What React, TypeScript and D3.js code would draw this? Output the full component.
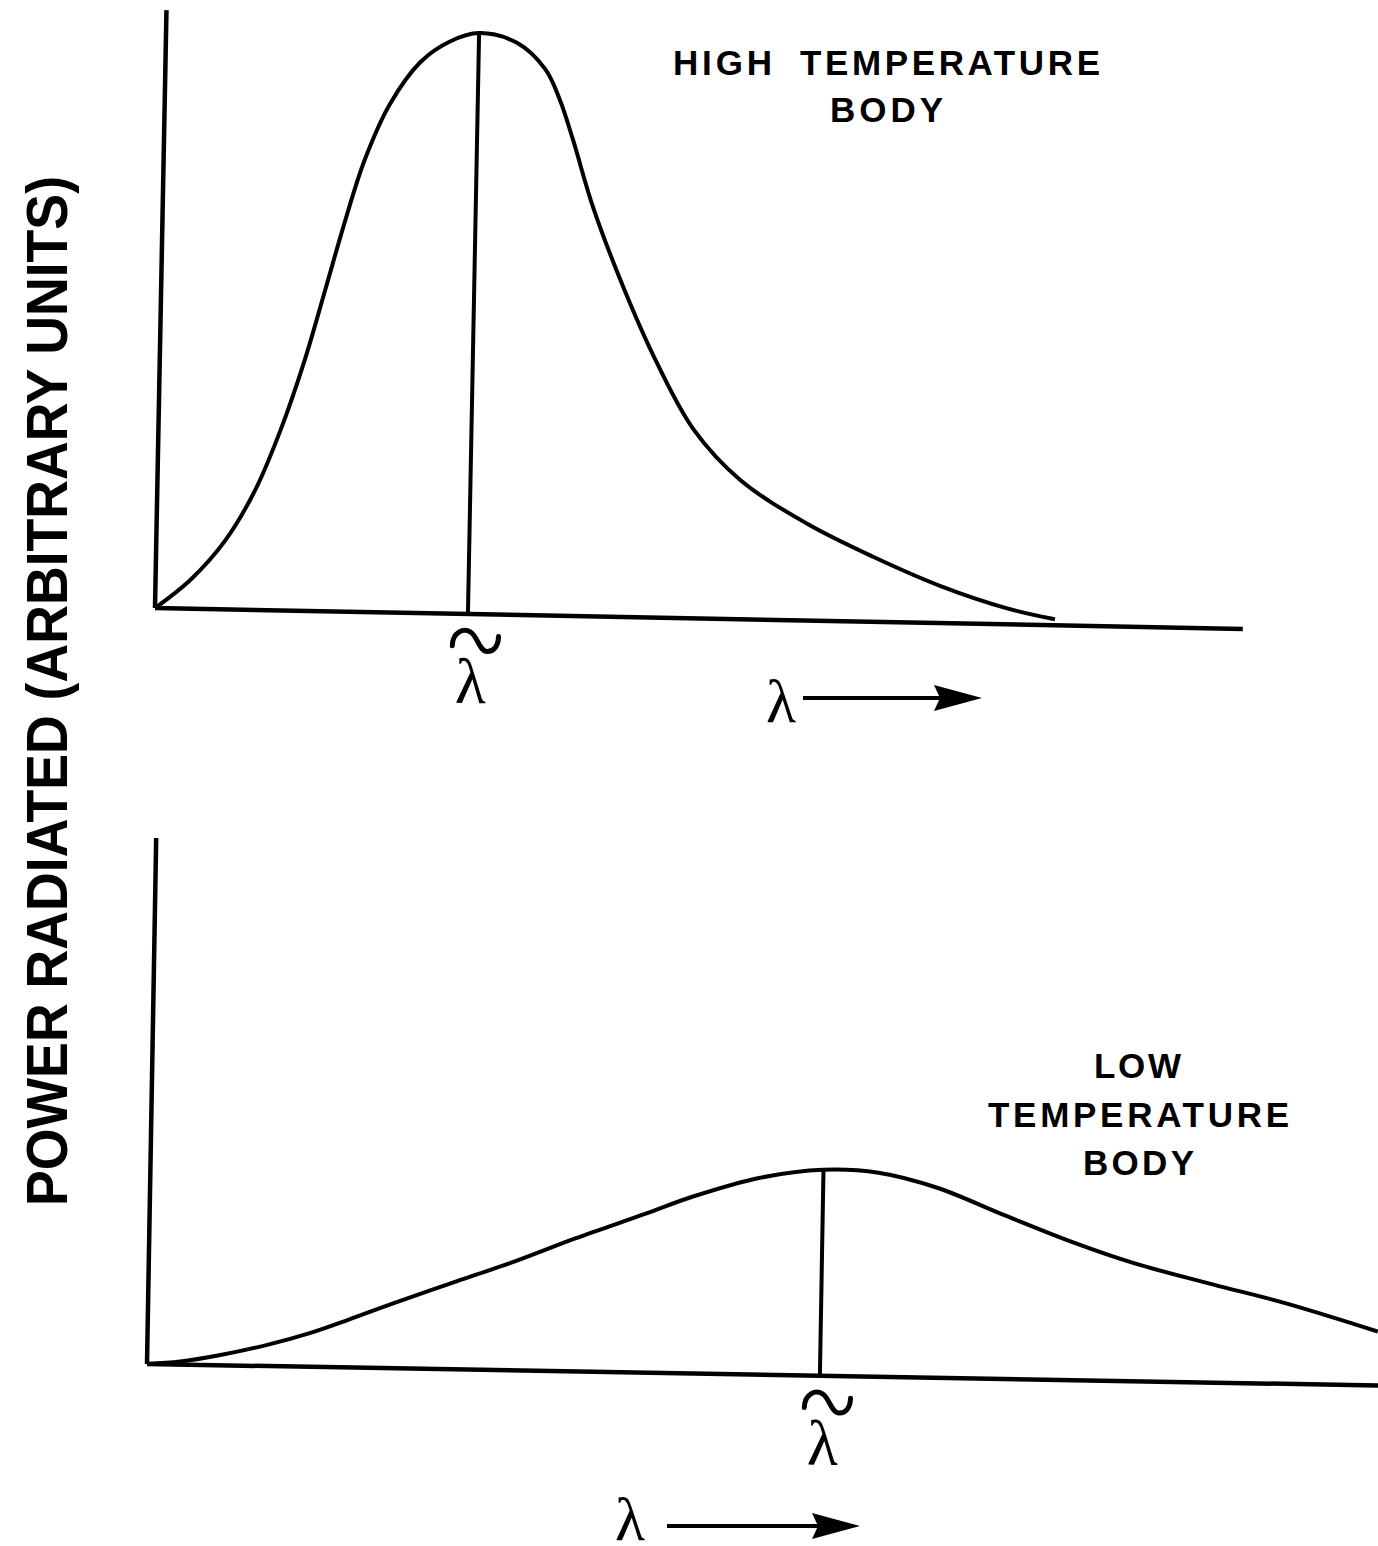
import * as d3 from "d3";

// wavelength and power in arbitrary units
const HIGH_WAVELENGTH = [0, 0.35, 0.69, 0.98, 1.22, 1.45, 1.64, 1.83, 2.01, 2.25, 2.55, 2.84, 3.13, 3.51, 3.8, 3.95, 4.09, 4.3, 4.62, 4.97, 5.35, 5.83, 6.5, 7.17, 7.85, 8.52, 9.0];
const HIGH_POWER = [0, 0.29, 0.69, 1.2, 1.8, 2.51, 3.21, 3.92, 4.52, 5.08, 5.51, 5.72, 5.81, 5.72, 5.46, 5.16, 4.76, 4.1, 3.3, 2.55, 1.89, 1.39, 0.97, 0.65, 0.37, 0.16, 0.06];

const LOW_WAVELENGTH = [0, 0.33, 0.72, 1.19, 1.63, 2.01, 2.45, 3.08, 3.66, 4.26, 4.96, 5.43, 6.1, 6.73, 7.28, 7.87, 8.54, 9.26, 9.85, 10.65, 11.36, 12.3];
const LOW_POWER = [0, 0.03, 0.1, 0.21, 0.34, 0.48, 0.65, 0.88, 1.09, 1.33, 1.59, 1.77, 1.97, 2.06, 2.04, 1.9, 1.64, 1.37, 1.18, 0.98, 0.81, 0.54];

// wavelength of maximum emission, per body
const HIGH_PEAK = 3.13;
const LOW_PEAK = 6.73;

const HIGH_LABEL = ["HIGH", "TEMPERATURE", "BODY"];
const LOW_LABEL = ["LOW", "TEMPERATURE", "BODY"];
const Y_LABEL = "POWER RADIATED (ARBITRARY UNITS)";

const W = 1378;
const H = 1546;
const UNIT = 100;

const x = d3.scaleLinear().domain([0, 1]).range([0, UNIT]);
const y = d3.scaleLinear().domain([0, 1]).range([0, -UNIT]);

const line = d3
  .line<[number, number]>()
  .x((d) => x(d[0]))
  .y((d) => y(d[1]))
  .curve(d3.curveCatmullRom.alpha(0.5));

type PanelProps = {
  ox: number;
  oy: number;
  tilt: number;
  xMax: number;
  yMax: number;
  wl: number[];
  pw: number[];
  peak: number;
  arrow: { lambdaAt: number; lambdaBase: number; from: number; to: number; y: number };
};

const peakPower = (wl: number[], pw: number[], peak: number) => {
  const i = wl.indexOf(peak);
  return i >= 0 ? pw[i] : d3.max(pw)!;
};

const Panel = ({ ox, oy, tilt, xMax, yMax, wl, pw, peak, arrow }: PanelProps) => {
  const pts = wl.map((w, i) => [w, pw[i]] as [number, number]);
  const top = peakPower(wl, pw, peak);
  const tip = x(arrow.to);
  return (
    <g>
      <g transform={`translate(${ox},${oy}) rotate(${tilt})`}>
        <line x1={x(0)} y1={y(0)} x2={x(0)} y2={y(yMax)} stroke="#000" strokeWidth={4.5} />
        <line x1={x(0)} y1={y(0)} x2={x(xMax)} y2={y(0)} stroke="#000" strokeWidth={4.5} />
        <path d={line(pts)!} fill="none" stroke="#000" strokeWidth={4} />
        <line x1={x(peak)} y1={y(0)} x2={x(peak)} y2={y(top)} stroke="#000" strokeWidth={4} />
        <path
          transform={`translate(${x(peak) + 8},${26})`}
          d="M -23 6 C -23 -8 -12 -12 -5 -8 C 2 -4 4 11 12 11 C 18 11 23 6 23 -4"
          fill="none"
          stroke="#000"
          strokeWidth={5}
          strokeLinecap="round"
        />
        <text x={x(peak) + 4} y={89} textAnchor="middle" fontFamily="Liberation Serif" fontSize={64}>
          λ
        </text>
      </g>
      <g transform={`translate(${ox},${oy})`}>
        <text x={x(arrow.lambdaAt)} y={arrow.lambdaBase} textAnchor="middle" fontFamily="Liberation Serif" fontSize={62}>
          λ
        </text>
        <line x1={x(arrow.from)} y1={arrow.y} x2={tip - 40} y2={arrow.y} stroke="#000" strokeWidth={4} />
        <path
          d={`M ${tip} ${arrow.y} L ${tip - 48} ${arrow.y - 13} L ${tip - 42} ${arrow.y} L ${tip - 48} ${arrow.y + 13} Z`}
          fill="#000"
        />
      </g>
    </g>
  );
};

const LABEL_FONT = "'Liberation Sans', Arial, Helvetica, sans-serif";

const App = () => {
  return (
    <svg
      width={W}
      height={H}
      viewBox={`0 0 ${W} ${H}`}
      style={{ position: "absolute", left: 0, top: 0, background: "#fff" }}
    >
      <rect width={W} height={H} fill="#fff" />
      <Panel
        ox={155}
        oy={608}
        tilt={1.1}
        xMax={10.88}
        yMax={5.98}
        wl={HIGH_WAVELENGTH}
        pw={HIGH_POWER}
        peak={HIGH_PEAK}
        arrow={{ lambdaAt: 6.26, lambdaBase: 114, from: 6.48, to: 8.27, y: 90 }}
      />
      <Panel
        ox={147}
        oy={1364}
        tilt={1.0}
        xMax={12.7}
        yMax={5.26}
        wl={LOW_WAVELENGTH}
        pw={LOW_POWER}
        peak={LOW_PEAK}
        arrow={{ lambdaAt: 4.83, lambdaBase: 176, from: 5.2, to: 7.13, y: 162 }}
      />

      <g fontFamily={LABEL_FONT} fontWeight="bold" fontSize={35} fill="#000">
        <text x={673} y={75} textLength={99} lengthAdjust="spacing">{HIGH_LABEL[0]}</text>
        <text x={800} y={75} textLength={300} lengthAdjust="spacing">{HIGH_LABEL[1]}</text>
        <text x={830} y={122} textLength={113} lengthAdjust="spacing">{HIGH_LABEL[2]}</text>

        <text x={1094} y={1078} textLength={87} lengthAdjust="spacing">{LOW_LABEL[0]}</text>
        <text x={988} y={1127} textLength={301} lengthAdjust="spacing">{LOW_LABEL[1]}</text>
        <text x={1083} y={1175} textLength={111} lengthAdjust="spacing">{LOW_LABEL[2]}</text>
      </g>

      <text
        transform="translate(67,1206) rotate(-90)"
        fontFamily={LABEL_FONT}
        fontWeight="bold"
        fontSize={58}
        textLength={1030}
        lengthAdjust="spacingAndGlyphs"
      >
        {Y_LABEL}
      </text>
    </svg>
  );
};

export default App;
